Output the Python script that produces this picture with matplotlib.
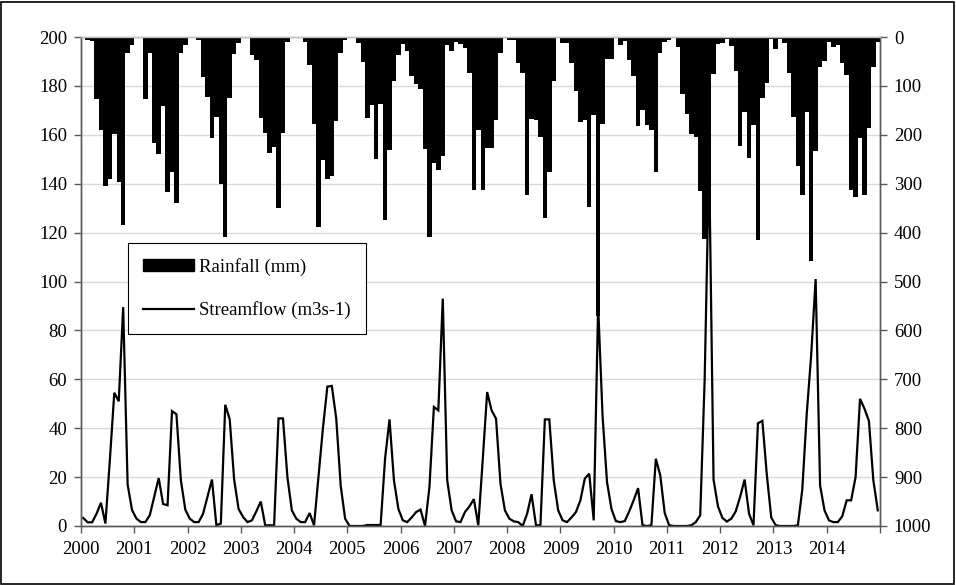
import numpy as np
import matplotlib
matplotlib.use("Agg")
import matplotlib.pyplot as plt
from matplotlib.patches import Patch, Rectangle
from matplotlib.lines import Line2D

years = list(range(2000, 2015))

# monthly rainfall (mm)
rain_2000 = [3, 6, 8, 127, 190, 305, 290, 199, 296, 384, 33, 16]
rain_2001 = [3, 2, 127, 33, 217, 240, 141, 316, 277, 340, 33, 16]
rain_2002 = [3, 2, 6, 81, 122, 207, 164, 300, 408, 125, 35, 13]
rain_2003 = [3, 3, 37, 47, 166, 197, 238, 224, 350, 196, 10, 3]
rain_2004 = [2, 3, 10, 57, 178, 388, 252, 290, 284, 171, 33, 6]
rain_2005 = [3, 3, 12, 52, 166, 139, 250, 136, 374, 232, 89, 37]
rain_2006 = [14, 28, 80, 96, 107, 230, 410, 257, 272, 243, 16, 28]
rain_2007 = [11, 14, 23, 74, 313, 190, 313, 228, 226, 170, 33, 3]
rain_2008 = [6, 7, 54, 74, 323, 168, 170, 204, 371, 277, 89, 3]
rain_2009 = [12, 12, 54, 110, 173, 170, 347, 160, 570, 178, 46, 46]
rain_2010 = [3, 17, 8, 48, 80, 182, 150, 180, 190, 276, 33, 10]
rain_2011 = [7, 2, 20, 116, 157, 199, 205, 314, 413, 370, 76, 14]
rain_2012 = [12, 5, 18, 70, 222, 153, 248, 179, 416, 125, 95, 5]
rain_2013 = [24, 5, 12, 73, 164, 264, 324, 154, 459, 234, 61, 50]
rain_2014 = [10, 20, 16, 53, 78, 313, 327, 207, 324, 186, 62, 10]

# monthly streamflow (m3/s)
flow_2000 = [3.3, 1.5, 1.5, 5, 9.5, 1, 27, 54.5, 51, 89.5, 17, 6.5]
flow_2001 = [3, 1.6, 1.6, 4.4, 12, 19.6, 9, 8.5, 47, 45.7, 18.7, 6.7]
flow_2002 = [3, 1.6, 1.6, 5, 12, 19, 0.3, 1, 49.6, 43.6, 19, 7]
flow_2003 = [3.7, 1.6, 2.3, 6, 10, 0.3, 0.3, 0.3, 44, 44, 20, 6.4]
flow_2004 = [3, 1.6, 1.6, 5.3, 0.3, 20, 40, 57, 57.3, 44, 16.6, 3]
flow_2005 = [0, 0, 0, 0, 0.4, 0.4, 0.4, 0.4, 27.5, 43.6, 18.7, 7]
flow_2006 = [2.3, 1.6, 3.5, 5.7, 6.7, 0, 16, 48.7, 47.3, 93, 18.7, 6.4]
flow_2007 = [1.9, 1.6, 5.7, 8, 11, 0.3, 27, 54.8, 47.3, 43.9, 17.3, 6.4]
flow_2008 = [3, 1.9, 1.6, 0, 5, 13, 0.3, 0.3, 43.6, 43.6, 18.7, 6.4]
flow_2009 = [2.3, 1.6, 3.5, 5.7, 10.5, 19.4, 21.4, 2.3, 90, 45, 18, 7]
flow_2010 = [2, 1.6, 2, 6, 10.5, 15.5, 0.3, 0, 0.3, 27.5, 20.7, 5.3]
flow_2011 = [0.3, 0, 0, 0, 0, 0.3, 1.6, 4.4, 60, 150, 19, 8]
flow_2012 = [3.3, 1.8, 3, 6, 12, 19, 5, 0.3, 42, 43, 21, 3.5]
flow_2013 = [0.3, 0, 0, 0, 0, 0.3, 15, 46, 70, 101, 16.6, 6.4]
flow_2014 = [2.3, 1.6, 1.6, 4, 10.5, 10.5, 20, 52, 48, 43, 18.7, 6.4]

rain = np.concatenate([rain_2000, rain_2001, rain_2002, rain_2003, rain_2004,
                       rain_2005, rain_2006, rain_2007, rain_2008, rain_2009,
                       rain_2010, rain_2011, rain_2012, rain_2013, rain_2014])
flow = np.concatenate([flow_2000, flow_2001, flow_2002, flow_2003, flow_2004,
                       flow_2005, flow_2006, flow_2007, flow_2008, flow_2009,
                       flow_2010, flow_2011, flow_2012, flow_2013, flow_2014])

plt.rcParams['font.family'] = ['Liberation Serif', 'DejaVu Serif']

fig = plt.figure(figsize=(9.56, 5.85), dpi=100)
ax = fig.add_axes([81 / 956, 59 / 585, 799 / 956, 489 / 585])
ax2 = ax.twinx()

months = np.arange(len(flow)) + 0.5
axis_col = '#595959'

# streamflow on the left axis
ax.plot(months, flow, color='black', lw=1.6, solid_joinstyle='miter')
ax.set_ylim(0, 200)
ax.set_yticks(np.arange(0, 201, 20))
ax.set_xlim(0, 180)
ax.set_xticks(np.arange(0, 181, 12))
ax.set_xticklabels([str(y) for y in years] + [''])
ax.yaxis.grid(True, color='#d9d9d9', lw=1)
ax.set_axisbelow(True)

# rainfall on the right axis, hanging from the top
ax2.bar(months, rain, width=1.0, color='black', linewidth=0)
ax2.set_ylim(1000, 0)
ax2.set_yticks(np.arange(0, 1001, 100))

for a in (ax, ax2):
    a.tick_params(axis='both', direction='out', length=5, width=1,
                  color=axis_col, labelsize=13.5, pad=5)
    for s in a.spines.values():
        s.set_color(axis_col)
        s.set_linewidth(1)
    a.spines['top'].set_color('#bfbfbf')
ax.tick_params(axis='x', pad=6)

handles = [Patch(facecolor='black', edgecolor='black'),
           Line2D([], [], color='black', lw=1.6)]
leg = ax2.legend(handles, ['Rainfall (mm)', 'Streamflow (m3s-1)'],
                 loc='upper left', bbox_to_anchor=(0.0588, 0.579),
                 borderaxespad=0, fancybox=False, framealpha=1,
                 edgecolor='black', fontsize=13.5, handlelength=2.7,
                 handleheight=0.55, handletextpad=0.3, borderpad=0.8,
                 labelspacing=1.35)
leg.get_frame().set_linewidth(0.8)

fig.patches.append(Rectangle((0.001, 0.002), 0.997, 0.995, transform=fig.transFigure,
                             fill=False, edgecolor='black', lw=1.2))

fig.savefig('out.png', dpi=100)
